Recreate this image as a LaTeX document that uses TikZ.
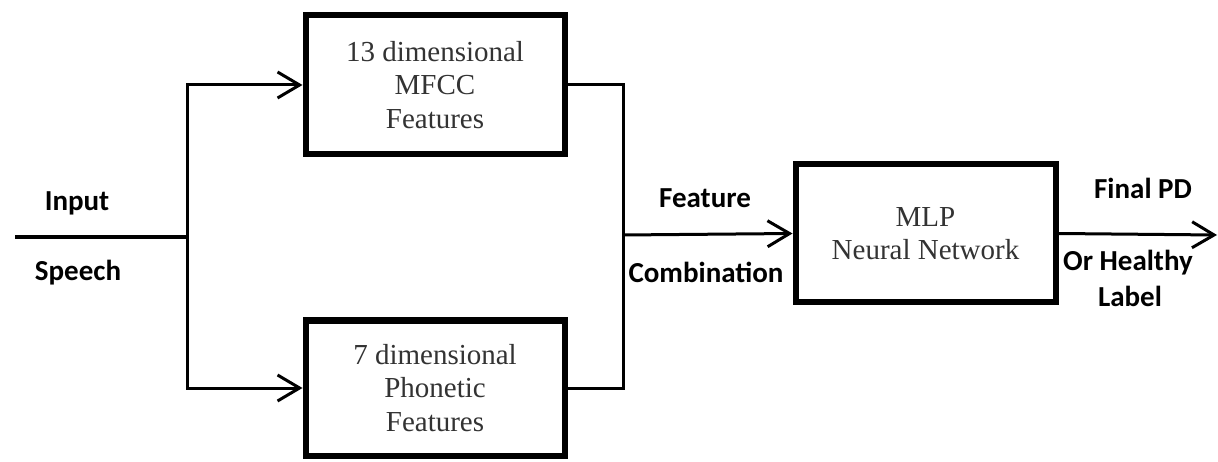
\documentclass[tikz,border=0pt]{standalone}
\usepackage{fontspec}
\setmainfont{Liberation Serif}
\newfontfamily\labelfont{Carlito}
\usetikzlibrary{arrows.meta}

\tikzset{
  block/.style={draw=black, line width=6pt, fill=white, align=center,
    font=\fontsize{29}{33.5}\selectfont, text=black!80,
    minimum width=259pt, inner sep=0pt},
  wire/.style={line width=3pt},
  flow/.style={wire, -{Straight Barb[length=22pt,width=26pt,line width=3pt]}},
  tag/.style={font=\labelfont\bfseries\fontsize{29}{33}\selectfont, align=center, inner sep=0pt}
}

\begin{document}
\begin{tikzpicture}[x=1pt, y=-1pt]
  \useasboundingbox (0,0) rectangle (1218,462);

  % processing blocks
  \node[block, minimum height=139pt] (mfcc) at (435,85) {13 dimensional\\MFCC\\Features};
  \node[block, minimum height=135pt] (phon) at (435,388) {7 dimensional\\Phonetic\\Features};
  \node[block, minimum width=260pt, minimum height=138pt] (mlp) at (925.5,233.5) {MLP\\Neural Network};

  % branch and merge points
  \coordinate (src) at (15,237);
  \coordinate (split) at (187,237);
  \coordinate (merge) at (623,235);
  \coordinate (out) at (1217,235);

  % connectors
  \draw[line width=4.5pt] (src) -- (split);
  \draw[flow] (split) |- (mfcc.west);
  \draw[flow] (split) |- (phon.west);
  \draw[wire] (mfcc.east) -| (merge);
  \draw[wire] (phon.east) -| (merge);
  \draw[flow] (merge) -- (mlp.west);
  \draw[flow] (mlp.east) -- (out);

  % labels
  \node[tag] (in1) at (77,203) {Input};
  \node[tag] (in2) at (78,273) {Speech};
  \node[tag] (fc1) at (705,198) {Feature};
  \node[tag] (fc2) at (706,272) {Combination};
  \node[tag] (o1) at (1143,188) {Final PD};
  \node[tag] (o2) at (1128,263) {Or Healthy};
  \node[tag] (o3) at (1130,296) {Label};
\end{tikzpicture}
\end{document}
